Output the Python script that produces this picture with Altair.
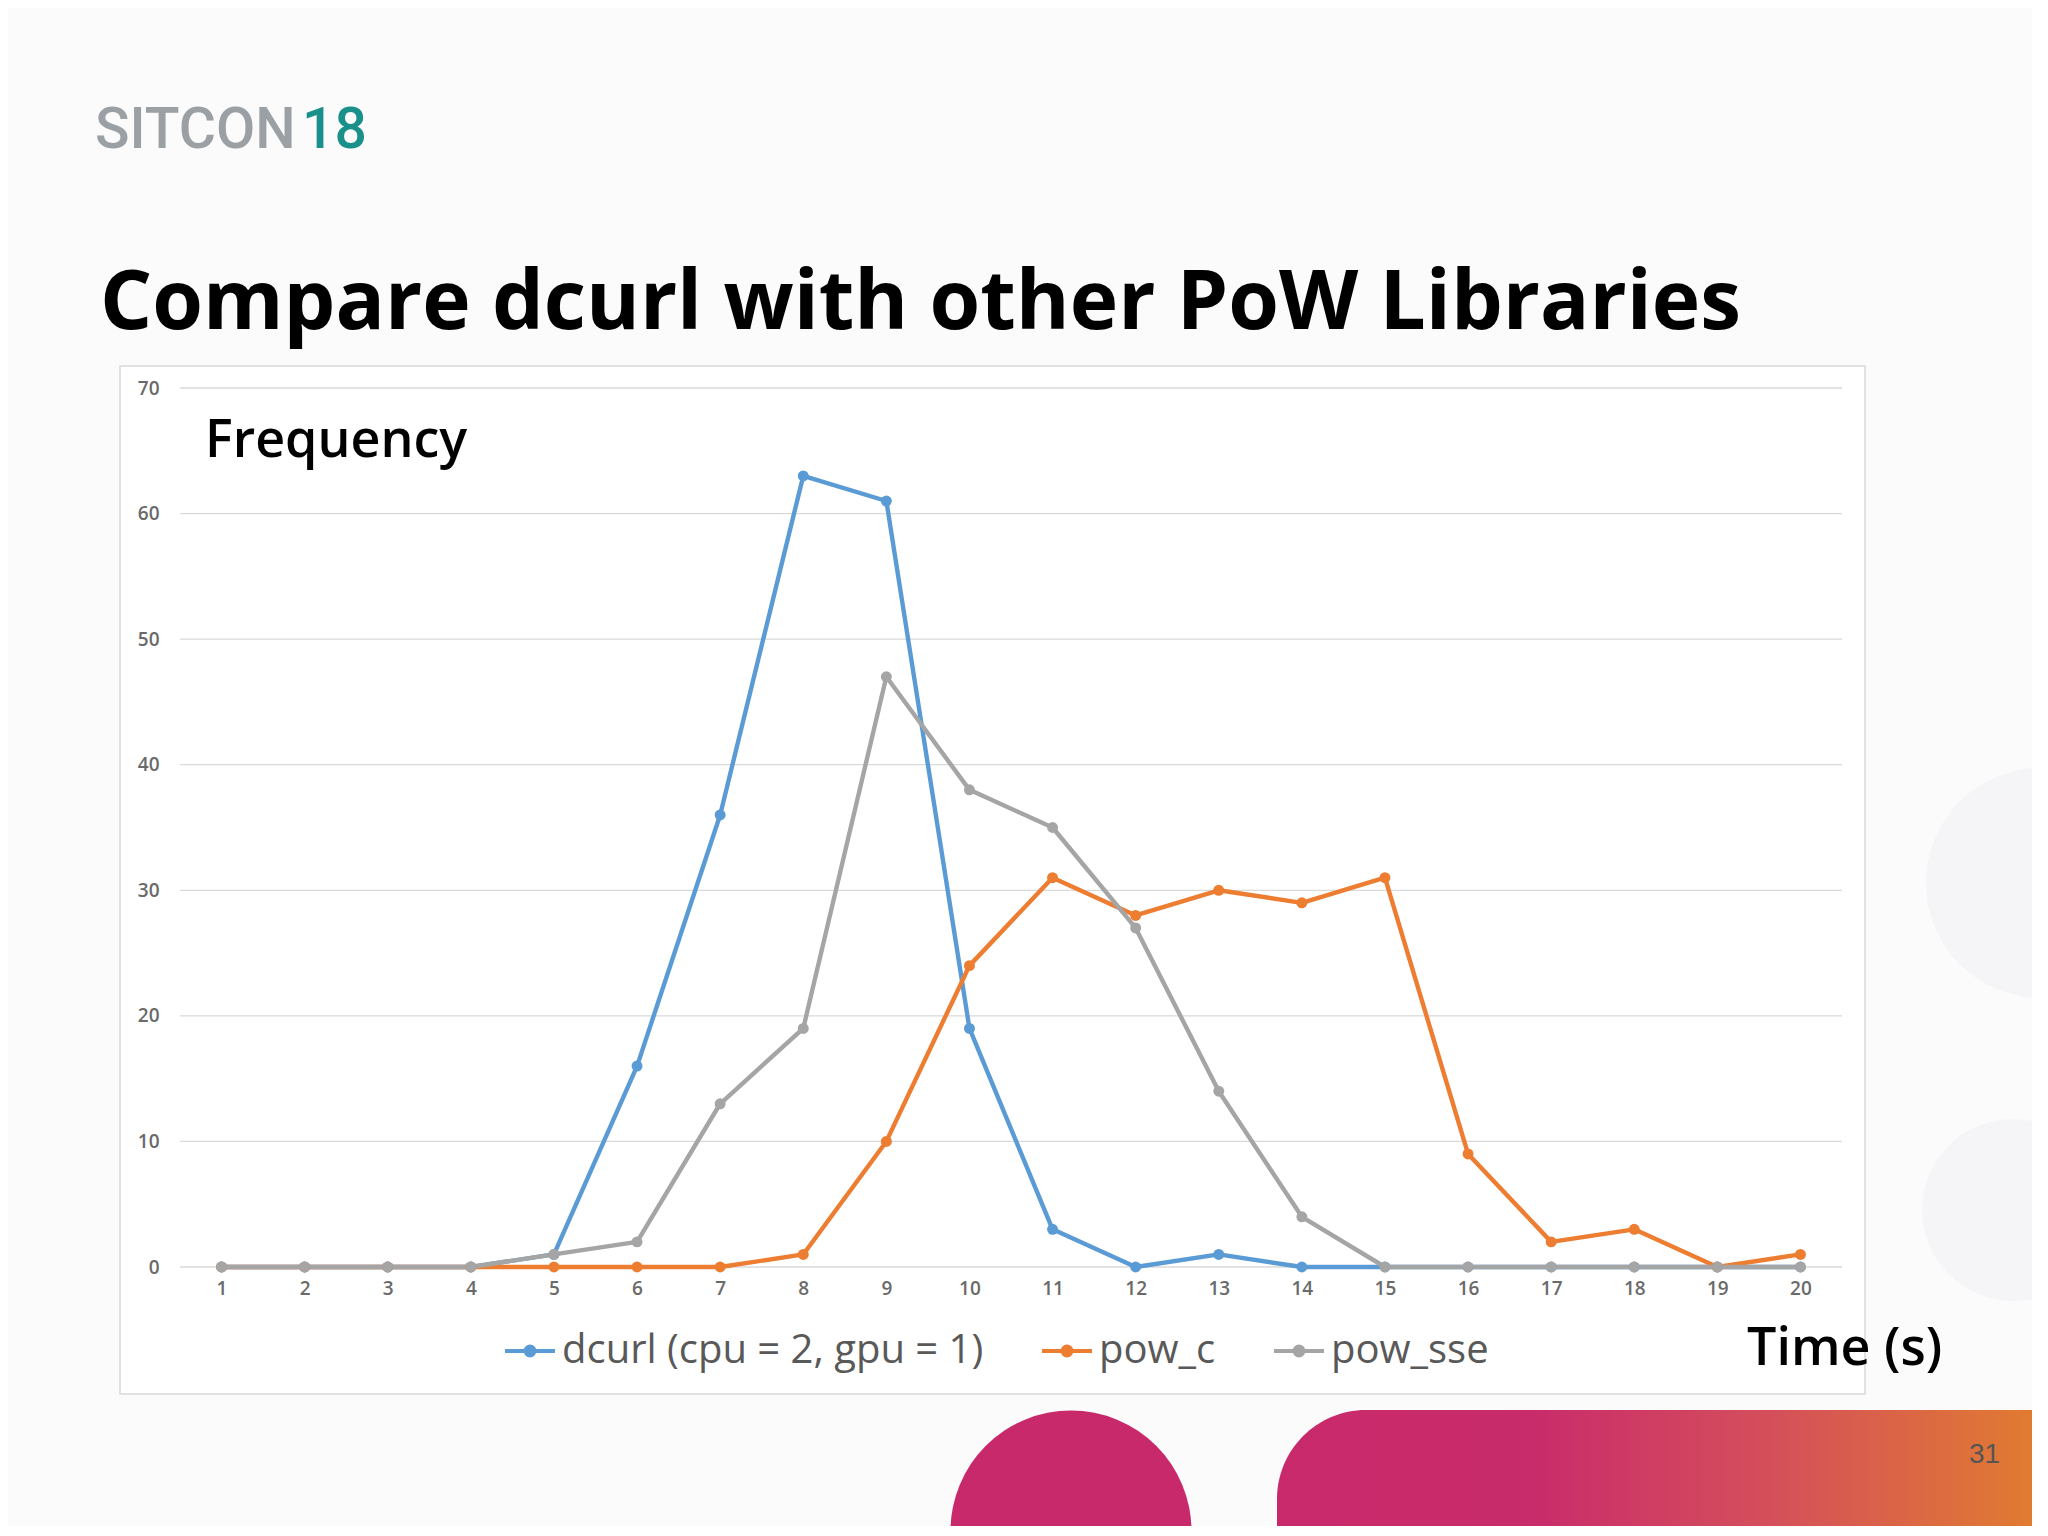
import altair as alt
import pandas as pd

# ---------------- data ----------------
times = list(range(1, 21))
dcurl = [0, 0, 0, 0, 1, 16, 36, 63, 61, 19, 3, 0, 1, 0, 0, 0, 0, 0, 0, 0]
pow_c = [0, 0, 0, 0, 0, 0, 0, 1, 10, 24, 31, 28, 30, 29, 31, 9, 2, 3, 0, 1]
pow_sse = [0, 0, 0, 0, 1, 2, 13, 19, 47, 38, 35, 27, 14, 4, 0, 0, 0, 0, 0, 0]
series_names = ["dcurl (cpu = 2, gpu = 1)", "pow_c", "pow_sse"]
series_colors = ["#5B9BD5", "#ED7D31", "#A5A5A5"]
y_ticks = [0, 10, 20, 30, 40, 50, 60, 70]

slide_title = ["Compare dcurl with other PoW Libraries"]
y_title = ["Frequency"]
x_title = ["Time (s)"]
logo_a = ["SITCON"]
logo_b = ["18"]
page_no = ["31"]

rows = []
for name, vals in zip(series_names, [dcurl, pow_c, pow_sse]):
    for t, v in zip(times, vals):
        rows.append({"time": t, "freq": v, "series": name})
df = pd.DataFrame(rows)
grid_df = pd.DataFrame({"freq": y_ticks})
one = pd.DataFrame({"k": [0]})

W, H = 1662, 879
FONT = "Open Sans"

x_enc = alt.X(
    "time:O",
    scale=alt.Scale(type="point", padding=0.5),
    axis=alt.Axis(labelAngle=0, domain=False, ticks=False, grid=False, title=None, zindex=2,
                  labelFontSize=19, labelFontWeight=600, labelColor="#6a6a6a",
                  labelFont=FONT, labelPadding=12),
)
y_scale = alt.Scale(domain=[0, 70], nice=False)
y_axis = alt.Axis(values=y_ticks, domain=False, ticks=False, grid=False, title=None, zindex=2,
                  labelFontSize=19, labelFontWeight=600, labelColor="#6a6a6a",
                  labelFont=FONT, labelPadding=21)
y_enc = alt.Y("freq:Q", scale=y_scale, axis=y_axis)

sym_path = "M-1,0L1,0M-0.18,0A0.18,0.18,0,1,0,0.18,0A0.18,0.18,0,1,0,-0.18,0Z"
legend = alt.Legend(
    orient="none", legendX=323, legendY=936, direction="horizontal", title=None,
    symbolType=sym_path, symbolSize=2500, symbolStrokeWidth=4,
    labelFontSize=40, labelColor="#595959", labelFont=FONT, labelLimit=0,
    columnPadding=50, labelOffset=5,
)
color_enc = alt.Color("series:N", scale=alt.Scale(domain=series_names, range=series_colors),
                      legend=legend)

# ---------------- decorations ----------------
faint1 = alt.Chart(one).mark_circle(color="#f5f5f7", opacity=1, size=52900).encode(
    x=alt.value(1861), y=alt.value(495))
faint2 = alt.Chart(one).mark_circle(color="#f5f5f7", opacity=1, size=33124).encode(
    x=alt.value(1833), y=alt.value(822))
box = alt.Chart(one).mark_rect(fill="white", stroke="#d9d9d9", strokeWidth=1.5).encode(
    x=alt.value(-60), x2=alt.value(1685), y=alt.value(-22), y2=alt.value(1006))
magenta = alt.Chart(one).mark_circle(color="#c8296b", opacity=1, size=58081).encode(
    x=alt.value(891), y=alt.value(1143))
band = alt.Chart(one).mark_rect(
    cornerRadiusTopLeft=125,
    color=alt.LinearGradient(
        gradient="linear",
        stops=[alt.GradientStop(color="#c8296b", offset=0),
               alt.GradientStop(color="#c92c6a", offset=0.32),
               alt.GradientStop(color="#d44d5c", offset=0.6),
               alt.GradientStop(color="#e3832a", offset=1)],
        x1=0, x2=1, y1=0, y2=0),
).encode(x=alt.value(1097), x2=alt.value(1900), y=alt.value(1022), y2=alt.value(1200))

gridlines = alt.Chart(grid_df).mark_rule(color="#d9d9d9", strokeWidth=1.3).encode(
    y=y_enc, x=alt.value(0), x2=alt.value(W))

lines = alt.Chart(df).mark_line(strokeWidth=4.4, strokeJoin="round", strokeCap="round").encode(
    x=x_enc, y=y_enc, color=color_enc)
points = alt.Chart(df).mark_point(filled=True, opacity=1, size=120, shape="circle").encode(
    x=x_enc, y=y_enc, color=color_enc)

def txt(values, x, y, size, weight="normal", color="#000000", font=FONT):
    return alt.Chart(pd.DataFrame({"t": values})).mark_text(
        align="left", baseline="alphabetic", fontSize=size, fontWeight=weight,
        color=color, font=font,
    ).encode(text="t:N", x=alt.value(x), y=alt.value(y))

t_title = txt(slide_title, -80, -59, 82, "bold")
t_logo_a = txt(logo_a, -85, -240, 57, 500, "#9ba0a4", "Roboto")
t_logo_b = txt(logo_b, 122, -240, 57, 500, "#19918a", "Roboto")
t_ytitle = txt(y_title, 25, 69, 52, 600)
t_xtitle = txt(x_title, 1567, 977, 52, 600)
t_page = txt(page_no, 1789, 1075, 28, "normal", "#555555", "Liberation Sans")

chart = alt.layer(
    faint1, faint2, box, magenta, band, gridlines, lines, points,
    t_title, t_logo_a, t_logo_b, t_ytitle, t_xtitle, t_page,
).properties(
    width=W, height=H,
    padding={"left": 172, "top": 380, "right": 190, "bottom": 259},
    autosize=alt.AutoSizeParams(type="none"),
    background="#fbfbfc",
).configure_view(strokeWidth=0)

chart.save("out.html", embed_options={"renderer": "svg", "actions": False})
